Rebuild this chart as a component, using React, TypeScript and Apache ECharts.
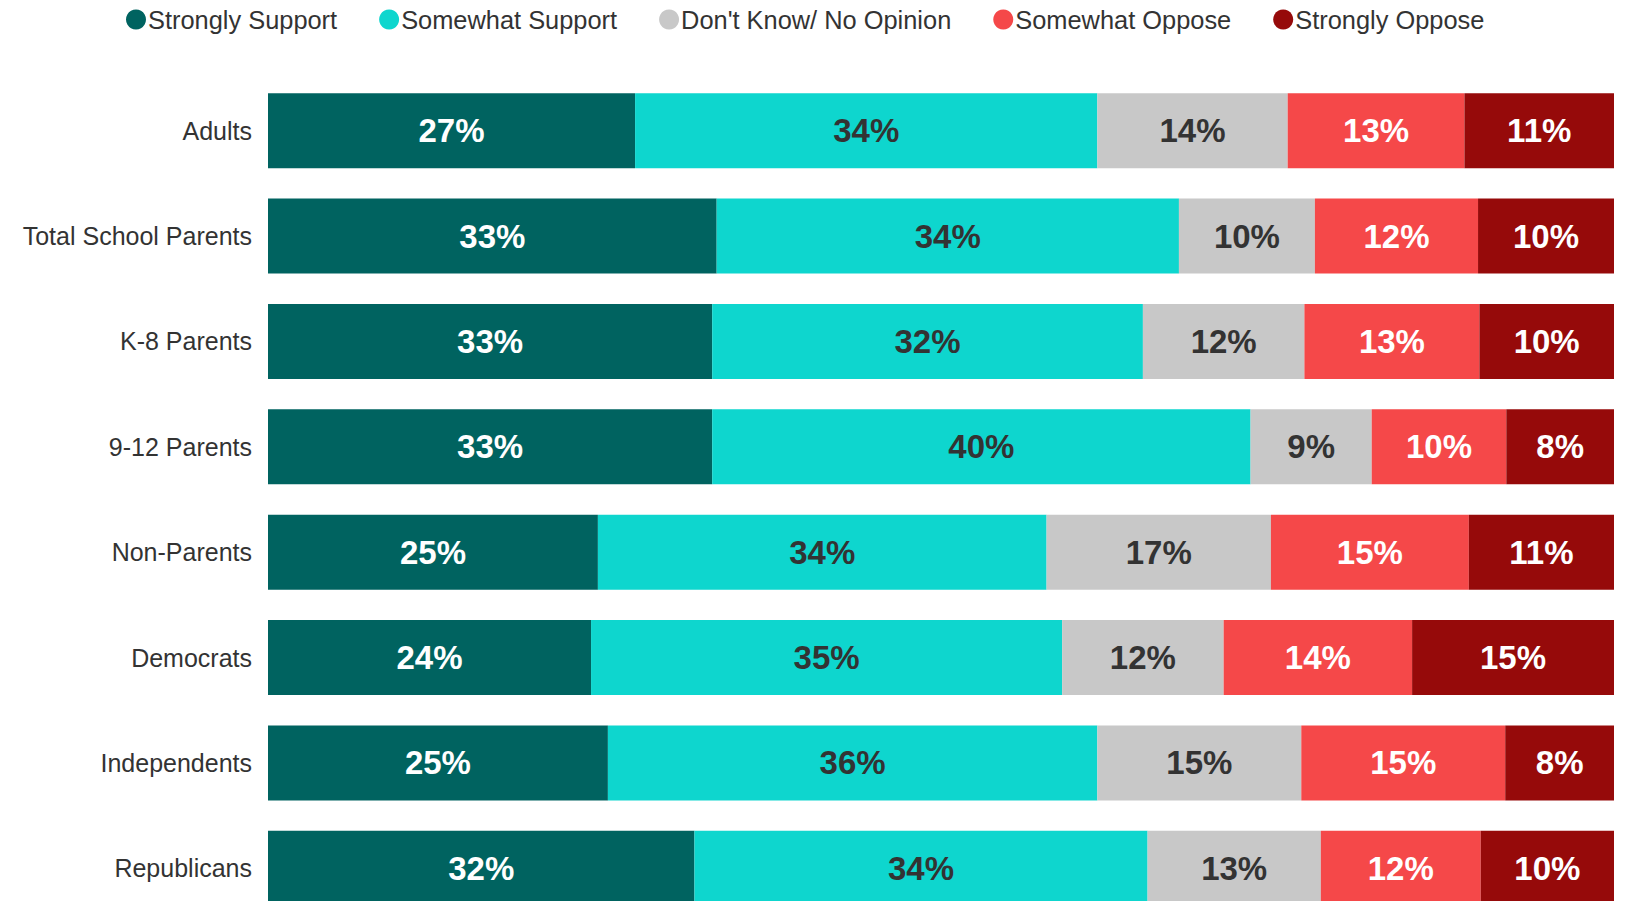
import React, { useEffect, useRef } from "react";
import * as echarts from "echarts";

const categories = [
  "Adults",
  "Total School Parents",
  "K-8 Parents",
  "9-12 Parents",
  "Non-Parents",
  "Democrats",
  "Independents",
  "Republicans",
];

const seriesNames = [
  "Strongly Support",
  "Somewhat Support",
  "Don't Know/ No Opinion",
  "Somewhat Oppose",
  "Strongly Oppose",
];

const stronglySupport = [27, 33, 33, 33, 25, 24, 25, 32];
const somewhatSupport = [34, 34, 32, 40, 34, 35, 36, 34];
const dontKnow = [14, 10, 12, 9, 17, 12, 15, 13];
const somewhatOppose = [13, 12, 13, 10, 15, 14, 15, 12];
const stronglyOppose = [11, 10, 10, 8, 11, 15, 8, 10];

const colors = ["#006360", "#0ED6CE", "#C8C8C8", "#F54849", "#960A0A"];
const labelColors = ["#FFFFFF", "#333333", "#333333", "#FFFFFF", "#FFFFFF"];

const FONT = "'Liberation Sans', Arial, sans-serif";

export default function App() {
  const ref = useRef<HTMLDivElement>(null);

  useEffect(() => {
    if (!ref.current) return;
    const chart = echarts.init(ref.current, undefined, { renderer: "svg" });
    const all = [stronglySupport, somewhatSupport, dontKnow, somewhatOppose, stronglyOppose];
    const totals = categories.map((_, i) => all.reduce((s, arr) => s + arr[i], 0));

    const series = all.map((arr, si) => ({
      name: seriesNames[si],
      type: "bar",
      stack: "total",
      barWidth: 75,
      itemStyle: { color: colors[si] },
      label: {
        show: true,
        position: "inside",
        color: labelColors[si],
        fontFamily: FONT,
        fontWeight: "bold",
        fontSize: 33,
        formatter: (p: any) => `${arr[p.dataIndex]}%`,
      },
      data: arr.map((v, i) => (v / totals[i]) * 100),
    }));

    chart.setOption({
      animation: false,
      backgroundColor: "#FFFFFF",
      textStyle: { fontFamily: FONT },
      legend: {
        left: 121,
        top: 2,
        itemWidth: 20,
        itemHeight: 20,
        itemGap: 42,
        icon: "circle",
        data: seriesNames,
        textStyle: { fontSize: 25.4, color: "#333333", fontFamily: FONT, padding: [0, 0, 0, -3] },
      },
      grid: {
        left: 268,
        right: 13,
        top: 78,
        bottom: 0,
        containLabel: false,
      },
      xAxis: {
        type: "value",
        min: 0,
        max: 100,
        show: false,
      },
      yAxis: {
        type: "category",
        inverse: true,
        data: categories,
        axisLine: { show: false },
        axisTick: { show: false },
        splitLine: { show: false },
        axisLabel: {
          fontSize: 25,
          color: "#333333",
          fontFamily: FONT,
          margin: 16,
        },
      },
      series,
    });

    return () => chart.dispose();
  }, []);

  return (
    <div style={{ position: "fixed", left: 0, top: 0, width: 1627, height: 901, overflow: "hidden" }}>
      <div ref={ref} style={{ position: "absolute", left: 0, top: 0, width: 1627, height: 921 }} />
    </div>
  );
}
